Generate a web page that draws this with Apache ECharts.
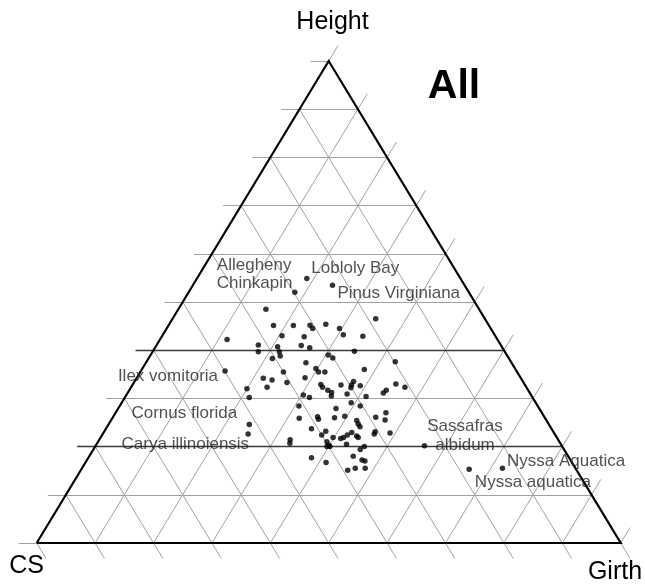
<!DOCTYPE html>
<html><head><meta charset="utf-8">
<script src="https://cdn.jsdelivr.net/npm/echarts@6/dist/echarts.min.js"></script>
<style>html,body{margin:0;padding:0;background:#fff}#c{width:645px;height:584px}</style>
</head><body><div id="c"></div>
<script>
// Ternary values (percent): CS, Height, Girth
const cs = [26.3,22.6,29.8,36.5,18.7,36.9,33.5,30.6,30.5,27.8,25.9,25.9,36.5,32.8,22.7,46.3,41.5,42.2,38.4,38.6,38.9,34.2,33.0,25.7,30.6,30.1,40.5,19.8,35.2,34.1,34.0,32.9,25.9,40.0,49.9,44.1,42.8,36.9,40.5,44.4,34.9,34.9,34.3,33.9,34.3,31.5,29.0,29.7,30.1,28.3,22.0,20.8,24.3,25.1,31.4,39.0,38.2,28.4,48.0,48.5,31.6,30.4,40.9,34.8,38.8,38.9,36.0,34.1,42.1,28.9,26.7,27.6,32.5,32.6,32.6,51.3,52.5,41.1,38.9,40.0,34.6,35.6,36.5,30.5,30.9,34.1,34.0,28.1,38.3,37.1,45.9,46.3,39.8,39.8,40.3,39.8,36.7,33.9,34.9,44.1,36.8,35.7,35.3,42.1,36.0,39.2,37.7,23.5,12.5,18.3];
const height = [54.9,53.5,52.0,48.5,46.5,45.1,45.1,45.2,44.5,45.4,44.5,43.2,43.0,42.8,42.9,42.2,41.1,39.7,40.7,39.7,38.8,41.0,40.5,39.8,39.0,38.4,38.3,37.6,37.4,36.2,35.5,35.5,36.0,35.5,35.7,34.2,33.8,34.3,33.3,32.3,32.9,32.3,31.7,31.2,30.5,32.8,33.5,32.8,32.2,32.6,33.0,32.3,31.7,31.1,30.9,30.7,30.2,30.4,32.0,30.2,29.1,28.4,28.4,27.9,26.2,25.7,26.0,26.3,25.9,26.1,27.0,25.5,25.4,24.7,24.1,24.6,22.6,23.7,23.2,22.4,22.9,22.4,21.9,23.1,22.6,22.2,21.9,22.8,21.9,21.7,21.4,20.7,21.0,20.3,20.0,20.0,20.5,20.0,19.4,17.7,18.0,17.2,17.0,16.7,15.5,15.1,15.5,20.2,15.5,15.3];
const girth = [18.8,23.9,18.2,15.0,34.8,18.0,21.4,24.2,25.0,26.8,29.6,30.9,20.5,24.4,34.4,11.5,17.4,18.1,20.9,21.7,22.3,24.8,26.5,34.5,30.4,31.5,21.2,42.6,27.4,29.7,30.5,31.6,38.1,24.5,14.4,21.7,23.4,28.8,26.2,23.3,32.2,32.8,34.0,34.9,35.2,35.7,37.5,37.5,37.7,39.1,45.0,46.9,44.0,43.8,37.7,30.3,31.6,41.2,20.0,21.3,39.3,41.2,30.7,37.3,35.0,35.4,38.0,39.6,32.0,45.0,46.3,46.9,42.1,42.7,43.3,24.1,24.9,35.2,37.9,37.6,42.5,42.0,41.6,46.4,46.5,43.7,44.1,49.1,39.8,41.2,32.7,33.0,39.2,39.9,39.7,40.2,42.8,46.1,45.7,38.2,45.2,47.1,47.7,41.2,48.5,45.7,46.8,56.3,72.0,66.4];
const labelIndex = [0,1,2,34,75,76,107,108,109];
const labelText = ['Lobloly Bay','Pinus Virginiana','Allegheny\nChinkapin','Ilex vomitoria','Cornus florida','Carya illinoiensis','Sassafras\nalbidum','Nyssa Aquatica','Nyssa aquatica'];
const gridTicks = [0,10,20,30,40,50,60,70,80,90,100];
const darkHeightTicks = [20,40];
const axisNames = {cs:'CS', height:'Height', girth:'Girth'};
const chartTitle = 'All';

// layout / style (kept apart from data)
const labelStyle = [
  {align:'left',  offset:[4.5,-10]},
  {align:'left',  offset:[5,8]},
  {align:'left',  offset:[-78,-18], lineHeight:18},
  {align:'right', offset:[-7,5]},
  {align:'right', offset:[-12,-11.6]},
  {align:'right', offset:[1,10.3]},
  {align:'center',offset:[40.5,-10], lineHeight:19},
  {align:'left',  offset:[4.6,-7]},
  {align:'left',  offset:[5.7,13]}
];
const TX = 18/584, TDX = 0.016, TDH = 0.032;

function tern(c,h,g){ const s=c+h+g; return [(g + h/2)/s, h/s]; }

const gridLines = [], darkLines = [];
gridTicks.forEach(t => {
  const f = t/100;
  const hl = {coords:[[f/2 - TX, f],[1 - f/2, f]]};
  if (darkHeightTicks.indexOf(t) >= 0) darkLines.push(hl); else gridLines.push(hl);
  gridLines.push({coords:[[f, 0],[f + (1-f)/2 + TDX, 1 - f + TDH]]});
  gridLines.push({coords:[[(1-f)/2, 1-f],[1 - f + TDX, -TDH]]});
});

const points = cs.map((c,i) => {
  const item = {value: tern(c, height[i], girth[i])};
  const li = labelIndex.indexOf(i);
  if (li >= 0) {
    const st = labelStyle[li];
    item.label = {show:true, formatter: labelText[li], position:'inside', align: st.align,
      verticalAlign:'middle', offset: st.offset, lineHeight: st.lineHeight || 18};
  }
  return item;
});

const chart = echarts.init(document.getElementById('c'), null, {renderer:'canvas'});
const FONT = '"Liberation Sans", Arial, sans-serif';
chart.setOption({
  animation:false,
  backgroundColor:'#fff',
  grid:{left:36.7, right:24.3, top:61, bottom:41},
  xAxis:{type:'value', min:0, max:1, show:false},
  yAxis:{type:'value', min:0, max:1, show:false},
  series:[
    {type:'lines', coordinateSystem:'cartesian2d', clip:false, silent:true, z:1,
      lineStyle:{color:'#a0a0a0', width:1, opacity:1}, data:gridLines},
    {type:'lines', coordinateSystem:'cartesian2d', clip:false, silent:true, z:2,
      lineStyle:{color:'#3a3a3a', width:1.3, opacity:1}, data:darkLines},
    {type:'lines', coordinateSystem:'cartesian2d', polyline:true, clip:false, silent:true, z:3,
      lineStyle:{color:'#000', width:2.2, opacity:1},
      data:[{coords:[[0,0],[1,0],[0.5,1],[0,0]]}]},
    {type:'scatter', symbol:'circle', symbolSize:5.5, clip:false, z:4,
      itemStyle:{color:'#000'},
      label:{show:false, color:'#262626', fontSize:17, fontFamily:FONT},
      data:points}
  ],
  graphic:[
    {type:'text', x:332.5, y:22, style:{text:axisNames.height, font:'25px '+FONT, fill:'#000', align:'center', verticalAlign:'middle', textAlign:'center', textVerticalAlign:'middle'}},
    {type:'text', x:26.5, y:566, style:{text:axisNames.cs, font:'25px '+FONT, fill:'#000', align:'center', verticalAlign:'middle', textAlign:'center', textVerticalAlign:'middle'}},
    {type:'text', x:615, y:572, style:{text:axisNames.girth, font:'25px '+FONT, fill:'#000', align:'center', verticalAlign:'middle', textAlign:'center', textVerticalAlign:'middle'}},
    {type:'text', x:454, y:87, style:{text:chartTitle, font:'bold 41px '+FONT, fill:'#000', align:'center', verticalAlign:'middle', textAlign:'center', textVerticalAlign:'middle'}}
  ]
});
</script></body></html>
